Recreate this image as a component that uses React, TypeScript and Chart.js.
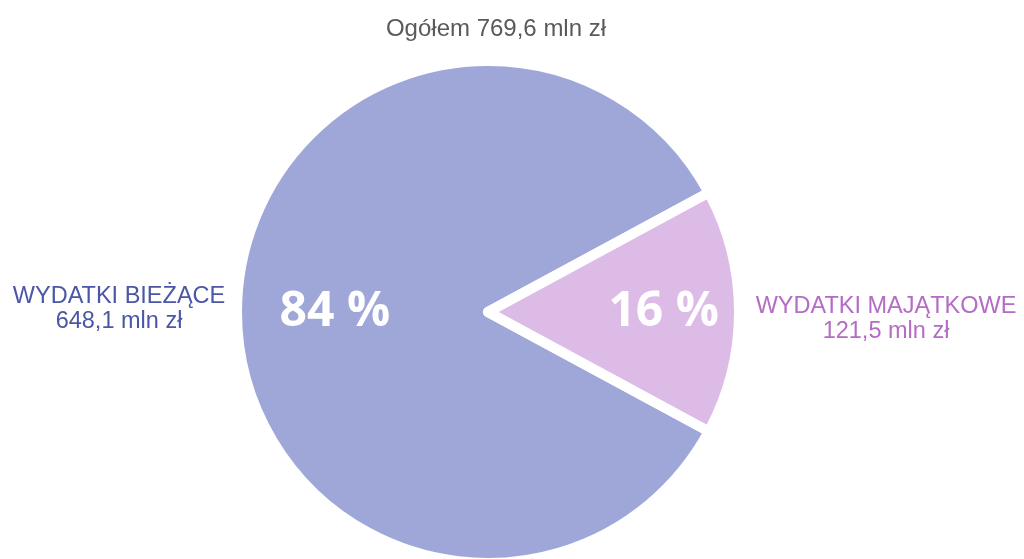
import React, { useEffect, useRef } from "react";
import { Chart, registerables } from "chart.js";

Chart.register(...registerables);

const categories = ["WYDATKI BIEŻĄCE", "WYDATKI MAJĄTKOWE"];
const values = [648.1, 121.5];
const sliceColors = ["#9ea7d8", "#ddbbe7"];
const labelColors = ["#4b56a6", "#b46cc4"];
const unit = "mln zł";
const totalLabel = "Ogółem";

// label placement (fractions of radius / px beyond radius)
const pctRadius = [0.61, 0.7];
const outerOffset = [118, 147];
const blockDy = [-2.5, 7.5];

const fmt = (v: number) => v.toFixed(1).replace(".", ",");
const total = values.reduce((a, b) => a + b, 0);

const labelPlugin = {
  id: "sliceLabels",
  afterDatasetsDraw(chart: any) {
    const ctx = chart.ctx as CanvasRenderingContext2D;
    const meta = chart.getDatasetMeta(0);
    ctx.save();
    ctx.textAlign = "center";
    ctx.textBaseline = "middle";
    ctx.font = "24px 'Liberation Sans'";
    ctx.fillStyle = "#5a5a5a";
    ctx.fillText(`${totalLabel} ${fmt(total)} ${unit}`, chart.width / 2 - 16, 29);
    ctx.restore();
    meta.data.forEach((arc: any, i: number) => {
      const { x, y, startAngle, endAngle, outerRadius } = arc.getProps(
        ["x", "y", "startAngle", "endAngle", "outerRadius"],
        true
      );
      const mid = (startAngle + endAngle) / 2;
      const c = Math.cos(mid);
      const s = Math.sin(mid);
      ctx.save();
      ctx.textAlign = "center";
      ctx.textBaseline = "middle";
      ctx.font = "bold 48px 'Open Sans'";
      ctx.fillStyle = "#ffffff";
      const pr = outerRadius * pctRadius[i];
      ctx.fillText(Math.round((values[i] / total) * 100) + " %", x + c * pr, y + s * pr);
      ctx.font = "23.5px 'Liberation Sans'";
      ctx.fillStyle = labelColors[i];
      const orr = outerRadius + outerOffset[i];
      const ox = x + c * orr;
      const oy = y + s * orr + blockDy[i];
      ctx.fillText(categories[i], ox, oy - 12.5);
      ctx.fillText(fmt(values[i]) + " " + unit, ox, oy + 12.5);
      ctx.restore();
    });
  },
};

export default function App() {
  const ref = useRef<HTMLCanvasElement | null>(null);
  useEffect(() => {
    if (!ref.current) return;
    const chart = new Chart(ref.current, {
      type: "pie",
      data: {
        labels: categories,
        datasets: [
          {
            data: values,
            backgroundColor: sliceColors,
            borderColor: "#ffffff",
            borderWidth: 10,
            borderJoinStyle: "round",
          } as any,
        ],
      },
      options: {
        animation: false,
        responsive: false,
        devicePixelRatio: 1,
        rotation: 270 - (180 * values[0]) / total,
        layout: { padding: { left: 0, right: 48, top: 56, bottom: 12 } },
        plugins: {
          legend: { display: false },
          tooltip: { enabled: false },
          title: { display: false },
        },
      },
      plugins: [labelPlugin],
    });
    return () => chart.destroy();
  }, []);
  return (
    <div
      style={{
        position: "absolute",
        left: 0,
        top: 0,
        width: 1024,
        height: 559,
        overflow: "hidden",
        background: "#fff",
      }}
    >
      <canvas ref={ref} width={1024} height={580} style={{ display: "block" }} />
    </div>
  );
}
